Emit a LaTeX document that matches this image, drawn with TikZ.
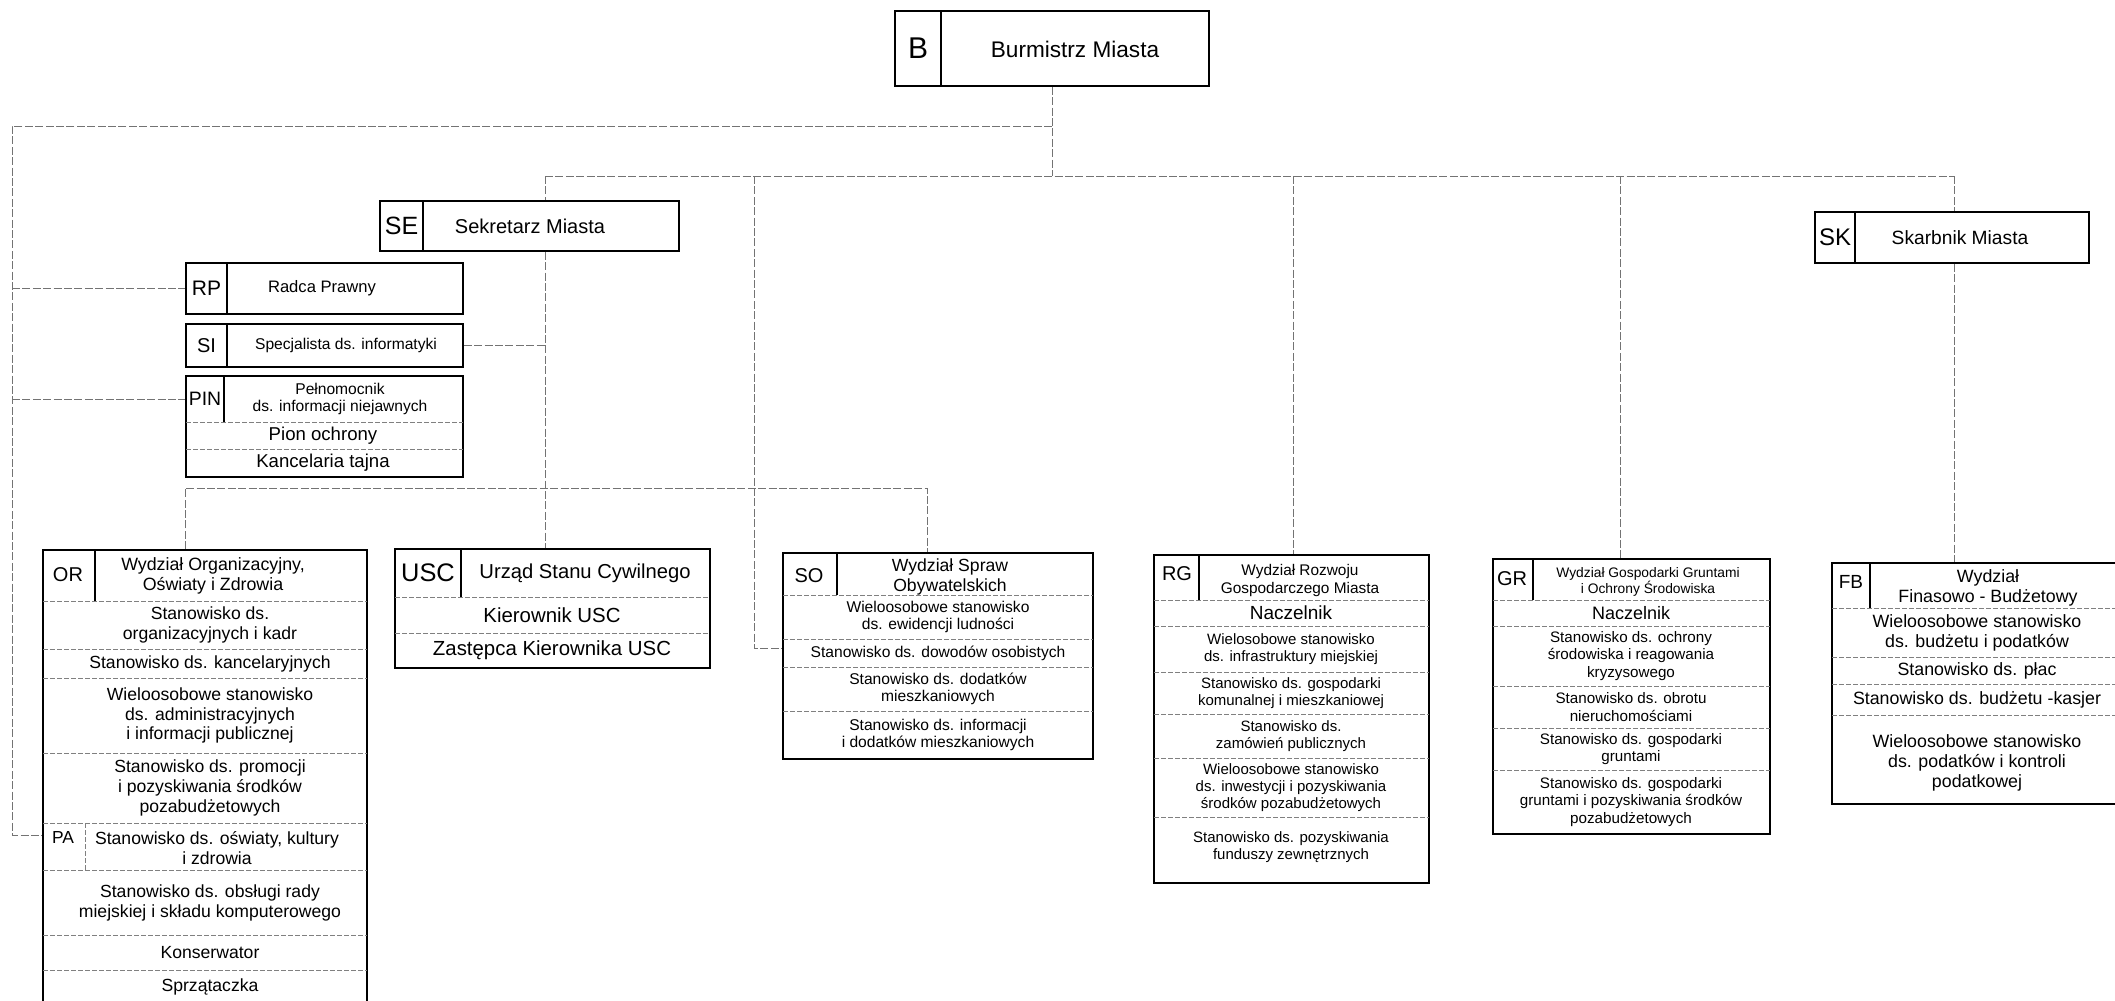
\documentclass[tikz,border=0pt]{standalone}
\usepackage{fontspec}
\setmainfont{Liberation Sans}
\usetikzlibrary{fit}
\newcommand\FS[1]{\fontsize{#1}{\fpeval{1.13*#1}}\selectfont}
\newcommand\orgbox[5]{\node[box, fit={(#2,#3) (#4,#5)}] (#1) {};}
\tikzset{
  box/.style={draw=black, line width=0.85pt, inner sep=0pt},
  div/.style={draw=black, line width=0.55pt},
  sep/.style={draw=black!50, line width=0.45pt, dash pattern=on 2.5pt off 1pt},
  conn/.style={draw=black!55, line width=0.5pt, dash pattern=on 4pt off 1.2pt},
  txt/.style={font=\FS{#1}, align=center, inner sep=0pt, text=black},
}
\begin{document}
\begin{tikzpicture}[x=0.5pt,y=-0.5pt]
\useasboundingbox (0,0) rectangle (2115,1001);
\clip (0,0) rectangle (2115,1001);

% ---------- Burmistrz ----------
\orgbox{B}{895}{11}{1209}{86}
\draw[div] (941,11) -- (941,86);
\node[txt=15] (B-id) at (918,48) {B};
\node[txt=11.3] (B-t) at (1075,49) {Burmistrz Miasta};

% ---------- Sekretarz ----------
\orgbox{SE}{380}{201}{679}{251}
\draw[div] (423,201) -- (423,251);
\node[txt=12.5] (SE-id) at (401.5,226) {SE};
\node[txt=10] (SE-t) at (530,226) {Sekretarz Miasta};

% ---------- Skarbnik ----------
\orgbox{SK}{1815}{212}{2089}{263}
\draw[div] (1855,212) -- (1855,263);
\node[txt=12] (SK-id) at (1835,237.5) {SK};
\node[txt=9.6] (SK-t) at (1960,237.5) {Skarbnik Miasta};

% ---------- RP / SI / PIN ----------
\orgbox{RP}{186}{263}{463}{314}
\draw[div] (227,263) -- (227,314);
\node[txt=10.5] (RP-id) at (206.5,288.5) {RP};
\node[txt=8.3] (RP-t) at (322,288.5) {Radca Prawny};

\orgbox{SI}{186}{324}{463}{367}
\draw[div] (227,324) -- (227,367);
\node[txt=10] (SI-id) at (206.5,345.5) {SI};
\node[txt=7.8] (SI-t) at (346,345.5) {Specjalista ds. informatyki};

\orgbox{PIN}{186}{376}{463}{477}
\draw[div] (224,376) -- (224,422);
\draw[sep] (186,422) -- (463,422);
\draw[sep] (186,449) -- (463,449);
\node[txt=9.7] (PIN-id) at (205,399) {PIN};
\node[txt=7.8] (PIN-t) at (340,399) {Pełnomocnik\\ds. informacji niejawnych};
\node[txt=9.3] (PIN-r1) at (323,435.5) {Pion ochrony};
\node[txt=9.3] (PIN-r2) at (323,463) {Kancelaria tajna};

% ---------- OR ----------
\orgbox{OR}{43}{550}{367}{1012}
\draw[div] (95,550) -- (95,601);
\foreach \yy in {601,649,678,753,823,870,935,970} \draw[sep] (43,\yy) -- (367,\yy);
\draw[sep] (85,823) -- (85,870);
\node[txt=10] (OR-id) at (68,575) {OR};
\node[txt=8.9] (OR-t) at (213,575.5) {Wydział Organizacyjny,\\Oświaty i Zdrowia};
\node[txt=8.8] (OR-r1) at (210,625) {Stanowisko ds.\\organizacyjnych i kadr};
\node[txt=8.8] (OR-r2) at (210,663.5) {Stanowisko ds. kancelaryjnych};
\node[txt=8.8] (OR-r3) at (210,715.5) {Wieloosobowe stanowisko\\ds. administracyjnych\\i informacji publicznej};
\node[txt=8.8] (OR-r4) at (210,788) {Stanowisko ds. promocji\\i pozyskiwania środków\\pozabudżetowych};
\node[txt=8.7] (PA-id) at (63,838) {PA};
\node[txt=8.8] (OR-r5) at (217,848) {Stanowisko ds. oświaty, kultury\\i zdrowia};
\node[txt=8.8] (OR-r6) at (210,902.5) {Stanowisko ds. obsługi rady\\miejskiej i składu komputerowego};
\node[txt=8.8] (OR-r7) at (210,952.5) {Konserwator};
\node[txt=8.8] (OR-r8) at (210,987) {Sprzątaczka};

% ---------- USC ----------
\orgbox{USC}{395}{549}{710}{668}
\draw[div] (461,549) -- (461,597);
\draw[sep] (395,597) -- (710,597);
\draw[sep] (395,633) -- (710,633);
\node[txt=12.7] (USC-id) at (428,573) {USC};
\node[txt=10.1] (USC-t) at (585,573) {Urząd Stanu Cywilnego};
\node[txt=10.2] (USC-r1) at (552,615) {Kierownik USC};
\node[txt=10.2] (USC-r2) at (552,650.5) {Zastępca Kierownika USC};

% ---------- SO ----------
\orgbox{SO}{783}{553}{1093}{759}
\draw[div] (837,553) -- (837,595);
\foreach \yy in {595,639,667,711} \draw[sep] (783,\yy) -- (1093,\yy);
\node[txt=10] (SO-id) at (809,576) {SO};
\node[txt=8.8] (SO-t) at (950,577) {Wydział Spraw\\Obywatelskich};
\node[txt=7.8] (SO-r1) at (938,617) {Wieloosobowe stanowisko\\ds. ewidencji ludności};
\node[txt=7.8] (SO-r2) at (938,653) {Stanowisko ds. dowodów osobistych};
\node[txt=7.8] (SO-r3) at (938,689) {Stanowisko ds. dodatków\\mieszkaniowych};
\node[txt=7.8] (SO-r4) at (938,735) {Stanowisko ds. informacji\\i dodatków mieszkaniowych};

% ---------- RG ----------
\orgbox{RG}{1154}{555}{1429}{883}
\draw[div] (1199,555) -- (1199,600);
\foreach \yy in {600,626,672,714,758,817} \draw[sep] (1154,\yy) -- (1429,\yy);
\node[txt=10] (RG-id) at (1177,574) {RG};
\node[txt=7.7] (RG-t) at (1300,580.5) {Wydział Rozwoju\\Gospodarczego Miasta};
\node[txt=9.5] (RG-r1) at (1291,613) {Naczelnik};
\node[txt=7.5] (RG-r2) at (1291,649) {Wielosobowe stanowisko\\ds. infrastruktury miejskiej};
\node[txt=7.5] (RG-r3) at (1291,693) {Stanowisko ds. gospodarki\\komunalnej i mieszkaniowej};
\node[txt=7.5] (RG-r4) at (1291,736) {Stanowisko ds.\\zamówień publicznych};
\node[txt=7.5] (RG-r5) at (1291,787.5) {Wieloosobowe stanowisko\\ds. inwestycji i pozyskiwania\\środków pozabudżetowych};
\node[txt=7.5] (RG-r6) at (1291,847) {Stanowisko ds. pozyskiwania\\funduszy zewnętrznych};

% ---------- GR ----------
\orgbox{GR}{1493}{559}{1770}{834}
\draw[div] (1533,559) -- (1533,600);
\foreach \yy in {600,626,686,728,770} \draw[sep] (1493,\yy) -- (1770,\yy);
\node[txt=10] (GR-id) at (1512,579) {GR};
\node[txt=6.9] (GR-t) at (1648,582) {Wydział Gospodarki Gruntami\\i Ochrony Środowiska};
\node[txt=9] (GR-r1) at (1631,613) {Naczelnik};
\node[txt=7.6] (GR-r2) at (1631,656) {Stanowisko ds. ochrony\\środowiska i reagowania\\kryzysowego};
\node[txt=7.6] (GR-r3) at (1631,707) {Stanowisko ds. obrotu\\nieruchomościami};
\node[txt=7.6] (GR-r4) at (1631,749) {Stanowisko ds. gospodarki\\gruntami};
\node[txt=7.6] (GR-r5) at (1631,802) {Stanowisko ds. gospodarki\\gruntami i pozyskiwania środków\\pozabudżetowych};

% ---------- FB ----------
\orgbox{FB}{1832}{563}{2125}{804}
\draw[div] (1870,563) -- (1870,608);
\foreach \yy in {608,657,684,715} \draw[sep] (1832,\yy) -- (2125,\yy);
\node[txt=9.5] (FB-id) at (1851,582) {FB};
\node[txt=8.9] (FB-t) at (1988,588) {Wydział\\Finasowo - Budżetowy};
\node[txt=8.9] (FB-r1) at (1977,632.5) {Wieloosobowe stanowisko\\ds. budżetu i podatków};
\node[txt=8.9] (FB-r2) at (1977,670.5) {Stanowisko ds. płac};
\node[txt=8.9] (FB-r3) at (1977,699.5) {Stanowisko ds. budżetu -kasjer};
\node[txt=8.9] (FB-r4) at (1977,763) {Wieloosobowe stanowisko\\ds. podatków i kontroli\\podatkowej};

% ---------- connectors ----------
\coordinate (jB1) at (1052,126);
\coordinate (jB2) at (1052,176);
\coordinate (cL1) at (12,126);
\coordinate (cL2) at (12,835);
\coordinate (pinJ) at (12,399);
\coordinate (h2L) at (545,176);
\coordinate (h2R) at (1954,176);
\coordinate (vSO) at (754,176);
\coordinate (vSOb) at (754,648);
\coordinate (vRG) at (1293,176);
\coordinate (vGR) at (1620,176);
\coordinate (h3L) at (185,488);
\coordinate (h3R) at (927,488);

\draw[conn] (B.south) -- (jB2);
\draw[conn] (jB1) -- (cL1) -- (cL2) -- (cL2 -| OR.west);
\draw[conn] (cL1 |- RP.west) -- (RP.west);
\draw[conn] (pinJ) -- (pinJ -| PIN.west);
\draw[conn] (h2L) -- (h2R);
\draw[conn] (h2L) -- (h2L |- SE.north);
\draw[conn] (SE.south -| h2L) -- (h2L |- USC.north);
\draw[conn] (SI.east) -- (SI.east -| h2L);
\draw[conn] (vSO) -- (vSOb) -- (vSOb -| SO.west);
\draw[conn] (vRG) -- (vRG |- RG.north);
\draw[conn] (vGR) -- (vGR |- GR.north);
\draw[conn] (h2R) -- (h2R |- SK.north);
\draw[conn] (SK.south -| h2R) -- (h2R |- FB.north);
\draw[conn] (h3L |- OR.north) -- (h3L) -- (h3R) -- (h3R |- SO.north);
\end{tikzpicture}
\end{document}
